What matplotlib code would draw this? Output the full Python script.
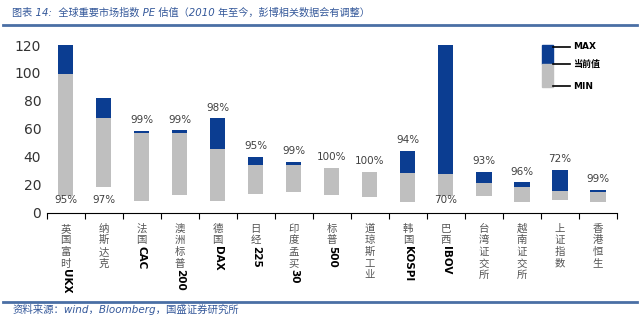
import re
import matplotlib
matplotlib.use('Agg')
from matplotlib import pyplot as plt
from matplotlib.textpath import TextToPath
from matplotlib.font_manager import FontProperties
from matplotlib.patches import Rectangle
from matplotlib.lines import Line2D
import numpy as np

labels = ['英国富时UKX', '纳斯达克', '法国CAC', '澳洲标普200', '德国DAX', '日经225',
          '印度孟买30', '标普500', '道琼斯工业', '韩国KOSPI', '巴西IBOV',
          '台湾证交所', '越南证交所', '上证指数', '香港恒生']
pe_max = [120.0, 82.3, 58.4, 59.1, 67.5, 39.8, 36.4, 32.1, 29.3, 44.1, 120.0, 29.3, 21.7, 30.5, 16.2]
pe_now = [99.2, 68.0, 56.8, 57.0, 45.3, 34.0, 34.0, 31.6, 29.3, 28.1, 27.6, 21.4, 18.1, 15.2, 14.7]
pe_min = [12.0, 18.6, 8.5, 12.6, 8.5, 13.3, 14.5, 12.6, 11.4, 7.8, 12.0, 12.1, 7.4, 9.0, 7.8]
pct = ['95%', '97%', '99%', '99%', '98%', '95%', '99%', '100%', '100%', '94%',
       '70%', '93%', '96%', '72%', '99%']
pct_at_bottom = [True, True, False, False, False, False, False, False, False, False,
                 True, False, False, False, False]

BLUE = '#0b3d91'
GRAY = '#bfbfbf'
TITLE_C = '#34589a'
CJK = 'Noto Sans CJK SC'

pe_max = np.array(pe_max)
pe_now = np.array(pe_now)
pe_min = np.array(pe_min)
x = np.arange(len(labels))

fig = plt.figure(figsize=(6.4, 3.22), dpi=100)
ax = fig.add_axes([0.073, 0.340, 0.891, 0.520])

ax.bar(x, pe_now - pe_min, bottom=pe_min, width=0.4, color=GRAY, zorder=2)
ax.bar(x, pe_max - pe_now, bottom=pe_now, width=0.4, color=BLUE, zorder=2)

ax.set_xlim(-0.5, len(labels) - 0.5)
ax.set_ylim(0, 120)
ax.set_yticks(np.arange(0, 121, 20))
ax.tick_params(axis='y', length=0, pad=4, labelsize=10, labelcolor='#333333')
ax.set_xticks(np.arange(-0.5, len(labels), 1.0))
ax.set_xticklabels([])
ax.tick_params(axis='x', length=4, width=0.8, direction='out', color='black')
for s in ['top', 'right', 'left']:
    ax.spines[s].set_visible(False)
ax.spines['bottom'].set_color('black')
ax.spines['bottom'].set_linewidth(0.8)

# percentile labels
for i in x:
    if pct_at_bottom[i]:
        ax.annotate(pct[i], xy=(i, 0), xycoords=('data', 'axes fraction'),
                    xytext=(0, 9), textcoords='offset points', ha='center', va='center',
                    fontsize=7.5, color='#404040', zorder=3)
    else:
        ax.annotate(pct[i], xy=(i, pe_max[i]), xytext=(0, 4), textcoords='offset points',
                    ha='center', va='bottom', fontsize=7.5, color='#404040')

# vertical category labels: upright CJK, rotated latin
ttp = TextToPath()
latin_prop = FontProperties(family='DejaVu Sans', size=7.5, weight='bold')
for i, lab in enumerate(labels):
    y = -7.0
    for tok in re.findall(r'[A-Za-z0-9]+|.', lab):
        if tok.isascii():
            ax.annotate(tok, xy=(i, 0), xycoords=('data', 'axes fraction'),
                        xytext=(0, y), textcoords='offset points', rotation=-90,
                        ha='center', va='top', fontproperties=latin_prop, color='black')
            w, h, d = ttp.get_text_width_height_descent(tok, latin_prop, ismath=False)
            y -= w + 1
        else:
            ax.annotate(tok, xy=(i, 0), xycoords=('data', 'axes fraction'),
                        xytext=(0, y - 6.8), textcoords='offset points',
                        ha='center', va='baseline', fontsize=7.5, family=CJK, color='#555555')
            y -= 8.4

# legend key
tr = ax.transAxes
ax.add_patch(Rectangle((0.868, 0.885), 0.020, 0.115, transform=tr, color=BLUE, clip_on=False))
ax.add_patch(Rectangle((0.868, 0.751), 0.020, 0.134, transform=tr, color=GRAY, clip_on=False))
for yy, txt in [(0.990, 'MAX'), (0.888, '当前值'), (0.753, 'MIN')]:
    ax.add_line(Line2D([0.888, 0.918], [yy, yy], transform=tr, color='black', lw=1.2, clip_on=False))
    ax.text(0.923, yy, txt, transform=tr, ha='left', va='center', fontsize=6.5,
            fontweight='bold', family=['DejaVu Sans', CJK], color='black')

# title, footer and rules
fig.text(0.019, 0.962, '图表 14:  全球重要市场指数 PE 估值（2010 年至今，彭博相关数据会有调整）',
         ha='left', va='center', fontsize=7.3, style='italic', color=TITLE_C,
         family=['DejaVu Sans', CJK])
fig.add_artist(Line2D([0.005, 0.995], [0.922, 0.922], transform=fig.transFigure,
                      color='#4a6fa5', lw=2))
fig.add_artist(Line2D([0.005, 0.995], [0.062, 0.062], transform=fig.transFigure,
                      color='#4a6fa5', lw=2))
fig.text(0.019, 0.040, '资料来源：wind，Bloomberg，国盛证券研究所',
         ha='left', va='center', fontsize=7.5, style='italic', color=TITLE_C,
         family=['DejaVu Sans', CJK])

fig.savefig('out.png', dpi=100)
